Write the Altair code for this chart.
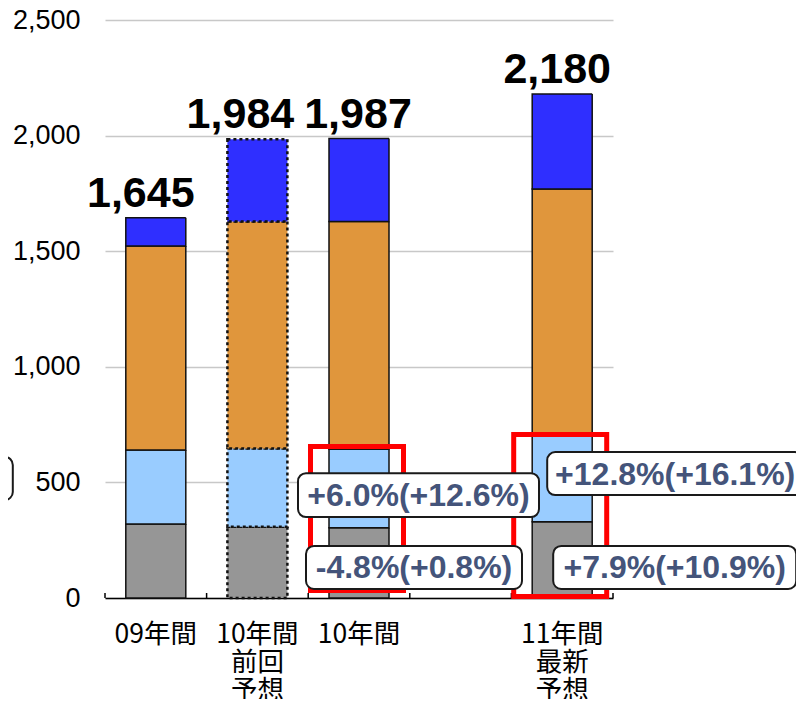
import altair as alt
import pandas as pd

# ---- data ----
slots = ["09年間", "10年間\n前回\n予想", "10年間", " ", "11年間\n最新\n予想"]
bar_cats = ["09年間", "10年間\n前回\n予想", "10年間", "11年間\n最新\n予想"]
segments = ["gray", "lightblue", "orange", "blue"]
seg_gray = [320, 308, 304, 330]
seg_lightblue = [320, 339, 339, 380]
seg_orange = [882, 981, 985, 1059]
seg_blue = [123, 356, 359, 411]
totals = [1645, 1984, 1987, 2180]
total_labels = ["1,645", "1,984", "1,987", "2,180"]

# highlight boxes (data units)
hl_cats = ["10年間", "11年間\n最新\n予想"]
hl_low = [32, 6]
hl_high = [655, 707]

# growth annotations
ann_texts = ["+6.0%(+12.6%)", "-4.8%(+0.8%)", "+12.8%(+16.1%)", "+7.9%(+10.9%)", "%)"]
ann_cats = ["10年間", "10年間", "11年間\n最新\n予想", "11年間\n最新\n予想", "09年間"]
ann_low = [350, 39, 445, 39, 424]
ann_high = [540, 225, 631, 225, 610]

colors = ["#969696", "#99CCFF", "#E0963C", "#2F2FFF"]

rows = []
for i, c in enumerate(bar_cats):
    vals = [seg_gray[i], seg_lightblue[i], seg_orange[i], seg_blue[i]]
    base = 0
    for s, v in zip(segments, vals):
        rows.append({"cat": c, "seg": s, "lo": base, "hi": base + v,
                     "prev": c == "10年間\n前回\n予想"})
        base += v
df = pd.DataFrame(rows)
hl_df = pd.DataFrame({"cat": hl_cats, "lo": hl_low, "hi": hl_high})
slot_df = pd.DataFrame({"cat": slots})

W, H = 508, 578

xscale = alt.Scale(domain=slots, paddingInner=0, paddingOuter=0)
yscale = alt.Scale(domain=[0, 2500])

x_enc = alt.X("cat:N", scale=xscale, sort=slots, title=None,
              axis=alt.Axis(labelExpr="split(datum.label, '\\n')", labelAngle=0,
                            labelFont="Noto Sans CJK JP", labelFontSize=26.5,
                            labelColor="#000", labelLineHeight=28,
                            labelBaseline="top", labelPadding=23,
                            ticks=False, domainColor="#000", domainWidth=1.5,
                            grid=False))
y_enc = alt.Y("lo:Q", scale=yscale, title=None,
              axis=alt.Axis(values=[0, 500, 1000, 1500, 2000, 2500], format=",.0f",
                            labelFont="Liberation Sans", labelFontSize=27,
                            labelColor="#000", labelPadding=25, domain=False,
                            ticks=False, gridColor="#C8C8C8", gridWidth=1.5))

bars = alt.Chart(df).mark_bar(size=60, stroke="#111", strokeWidth=1.5).encode(
    x=x_enc,
    y=y_enc,
    y2="hi:Q",
    color=alt.Color("seg:N", scale=alt.Scale(domain=segments, range=colors), legend=None),
    strokeDash=alt.condition("datum.prev", alt.value([3, 3]), alt.value([1, 0])),
    strokeWidth=alt.condition("datum.prev", alt.value(2.5), alt.value(1.5)),
)

ticks = alt.Chart(slot_df).mark_rule(color="#000", strokeWidth=1.5).encode(
    x=alt.X("cat:N", scale=xscale, sort=slots, bandPosition=0),
    y=alt.value(H), y2=alt.value(H - 5))
end_tick = alt.Chart(slot_df.head(1)).mark_rule(color="#000", strokeWidth=1.5).encode(
    x=alt.value(W), y=alt.value(H), y2=alt.value(H - 5))

# total labels: horizontal shift (pixels) of each label from its bar centre
total_dx = [-15, -17, -1, -5]
total_layers = []
for c, v, lab, dx in zip(bar_cats, totals, total_labels, total_dx):
    d = pd.DataFrame({"cat": [c], "total": [v], "label": [lab]})
    total_layers.append(alt.Chart(d).mark_text(
        font="Liberation Sans", fontWeight="bold", fontSize=43, baseline="alphabetic",
        dy=-11, dx=dx, color="#000").encode(
        x=alt.X("cat:N", scale=xscale, sort=slots),
        y=alt.Y("total:Q", scale=yscale),
        text="label:N"))

hl = alt.Chart(hl_df).mark_bar(size=93, fillOpacity=0, fill="#fff", stroke="#FF0000",
                               strokeWidth=5, xOffset=-2).encode(
    x=alt.X("cat:N", scale=xscale, sort=slots),
    y=alt.Y("lo:Q", scale=yscale), y2="hi:Q")

# annotation placement (pixels): horizontal shift from category centre and box width
ann_dx = [59.5, 55, 113, 112.5, -243]
ann_w = [241, 216, 256, 243, 200]
ann_layers = []
for t, c, lo, hi, dx, w in zip(ann_texts, ann_cats, ann_low, ann_high, ann_dx, ann_w):
    d = pd.DataFrame({"cat": [c], "lo": [lo], "hi": [hi], "mid": [(lo + hi) / 2], "t": [t]})
    box = alt.Chart(d).mark_bar(size=w, fill="#fff", stroke="#1a1a1a", strokeWidth=2,
                                cornerRadius=8, xOffset=dx).encode(
        x=alt.X("cat:N", scale=xscale, sort=slots),
        y=alt.Y("lo:Q", scale=yscale), y2="hi:Q")
    txt = alt.Chart(d).mark_text(font="Liberation Sans", fontWeight="bold", fontSize=32,
                                 color="#44547A", dx=dx, dy=1).encode(
        x=alt.X("cat:N", scale=xscale, sort=slots),
        y=alt.Y("mid:Q", scale=yscale), text="t:N")
    ann_layers += [box, txt]

chart = alt.layer(bars, ticks, end_tick, *total_layers, hl, *ann_layers).properties(
    width=W, height=H,
    autosize=alt.AutoSizeParams(type="none"),
    padding={"left": 97, "top": 12, "right": 183, "bottom": 101},
    background="#ffffff",
).configure_view(stroke=None)

chart.save("out.html", embed_options={"renderer": "svg", "actions": False})
